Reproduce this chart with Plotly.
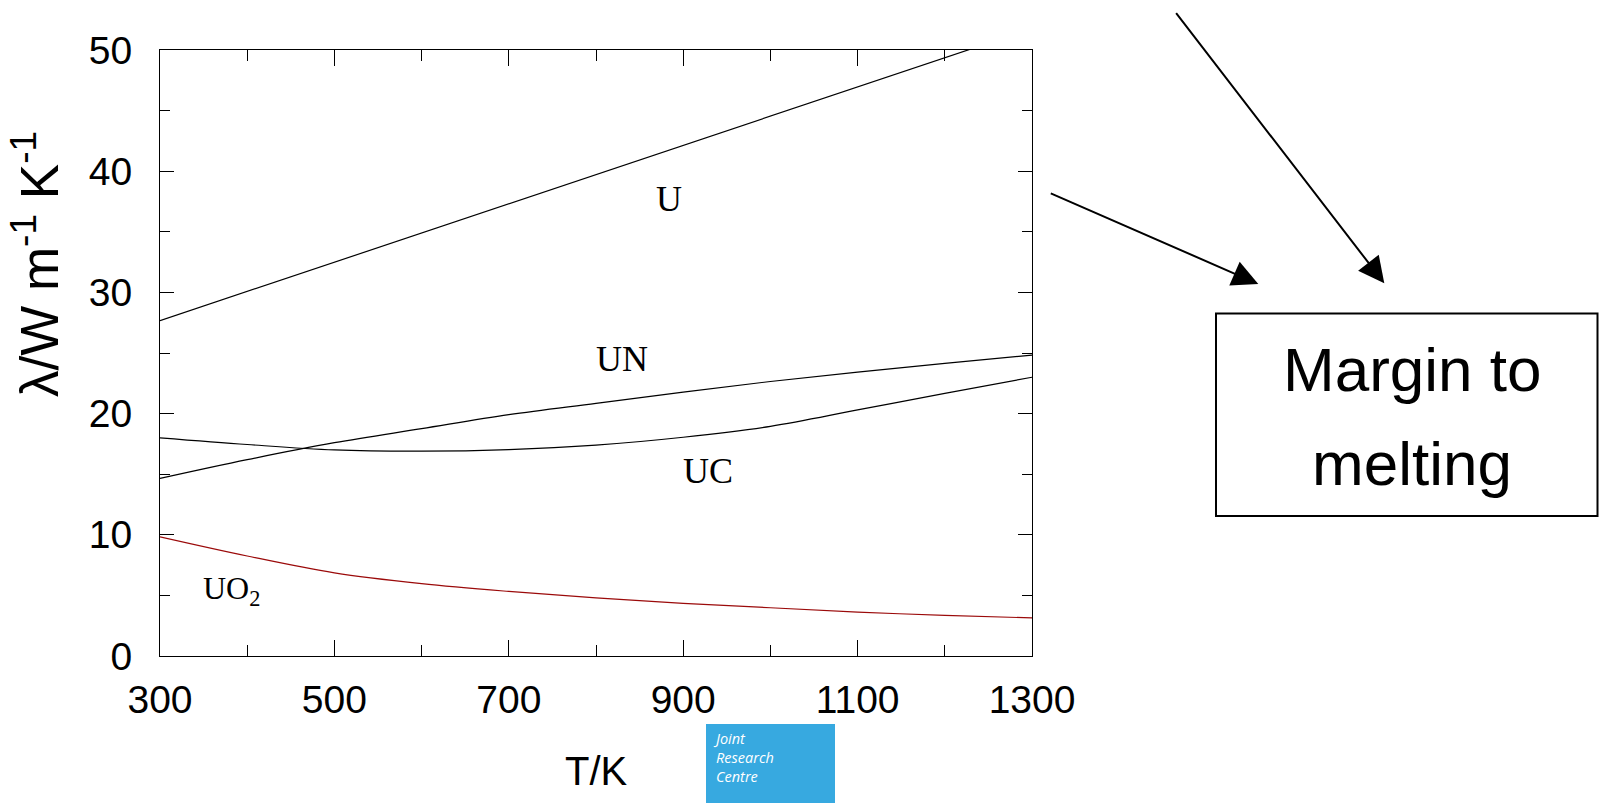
import plotly.graph_objects as go

# ---------------- data ----------------
T = [300, 400, 500, 600, 700, 800, 900, 1000, 1100, 1200, 1300]
lam_U = [27.67, 30.08, 32.49, 34.90, 37.31, 39.72, 42.13, 44.54, 46.95, 49.36, 51.77]
lam_UN = [14.65, 16.20, 17.60, 18.76, 19.91, 20.85, 21.78, 22.65, 23.42, 24.14, 24.83]
lam_UC = [18.00, 17.45, 17.00, 16.90, 17.03, 17.40, 18.05, 18.95, 20.30, 21.67, 23.00]
lam_UO2 = [9.83, 8.25, 6.86, 5.97, 5.33, 4.80, 4.35, 3.98, 3.62, 3.36, 3.14]

x_ticks = [300, 500, 700, 900, 1100, 1300]
y_ticks = [0, 10, 20, 30, 40, 50]

# ---------------- layout geometry ----------------
W, H = 1599, 803
ML, MR, MT, MB = 160, 567, 50, 147
PW = W - ML - MR
PH = H - MT - MB


def PX(x):
    return (x - ML) / PW


def PY(y):
    return (H - MB - y) / PH


fig = go.Figure()
fig.add_trace(go.Scatter(x=T, y=lam_U, mode="lines", line=dict(color="black", width=1.2), name="U"))
fig.add_trace(go.Scatter(x=T, y=lam_UN, mode="lines", line=dict(color="black", width=1.2, shape="spline"), name="UN"))
fig.add_trace(go.Scatter(x=T, y=lam_UC, mode="lines", line=dict(color="black", width=1.2, shape="spline"), name="UC"))
fig.add_trace(go.Scatter(x=T, y=lam_UO2, mode="lines", line=dict(color="#9b0a0a", width=1.2, shape="spline"), name="UO2"))

tickfont = dict(family="Liberation Sans, Arial, sans-serif", size=39, color="black")

fig.update_xaxes(
    range=[300, 1300], tickvals=x_ticks, ticktext=[str(v) for v in x_ticks],
    ticks="inside", ticklen=16, tickwidth=1, tickcolor="black",
    minor=dict(ticks="inside", ticklen=11, dtick=100, tick0=300, tickcolor="black", tickwidth=1),
    showline=True, linecolor="black", linewidth=1, mirror="ticks",
    showgrid=False, zeroline=False, tickfont=tickfont, ticklabelstandoff=9,
)
fig.update_yaxes(
    range=[0, 50], tickvals=y_ticks, ticktext=[str(v) for v in y_ticks],
    ticks="inside", ticklen=14, tickwidth=1, tickcolor="black",
    minor=dict(ticks="inside", ticklen=10, dtick=5, tick0=0, tickcolor="black", tickwidth=1),
    showline=True, linecolor="black", linewidth=1, mirror="ticks",
    showgrid=False, zeroline=False, tickfont=tickfont, ticklabelstandoff=19,
)

serif = dict(family="Liberation Serif, Times New Roman, serif", size=36, color="black")
sans40 = dict(family="Liberation Sans, Arial, sans-serif", size=40, color="black")
box_font = dict(family="Liberation Sans, Arial, sans-serif", size=62, color="black")

ann = []
# curve labels
ann.append(dict(x=PX(669), y=PY(199), text="U", font=serif))
ann.append(dict(x=PX(622), y=PY(359), text="UN", font=serif))
ann.append(dict(x=PX(708), y=PY(470.5), text="UC", font=serif))
ann.append(dict(x=PX(231), y=PY(590), text="UO<sub>2</sub>", font=dict(serif, size=32)))
# axis titles
ann.append(dict(x=PX(35), y=PY(264), text="λ/W m<sup>-1</sup> K<sup>-1</sup>", textangle=-90,
                font=dict(sans40, size=53)))
ann.append(dict(x=PX(596), y=PY(771), text="T/K", font=sans40))
# box text
ann.append(dict(x=PX(1412), y=PY(370), text="Margin to", font=box_font))
ann.append(dict(x=PX(1412), y=PY(463), text="melting", font=box_font))
# JRC logo text
logo_font = dict(family="Open Sans, sans-serif", size=14.5, color="white")
ann.append(dict(x=PX(711), y=PY(757), text="<i>Joint<br>Research<br>Centre</i>", font=logo_font,
                xanchor="left", align="left"))

for a in ann:
    a.setdefault("xref", "paper")
    a.setdefault("yref", "paper")
    a.setdefault("showarrow", False)
    a.setdefault("xanchor", "center")
    a.setdefault("yanchor", "middle")

# arrows (tail -> tip, in pixels)
arrows = [((1049.3, 192.7), (1258.3, 284.0)), ((1175.0, 11.7), (1384.3, 283.3))]
for (tx, ty), (hx, hy) in arrows:
    ann.append(dict(x=PX(hx), y=PY(hy), xref="paper", yref="paper", text="",
                    showarrow=True, ax=tx - hx, ay=ty - hy, axref="pixel", ayref="pixel",
                    arrowhead=2, arrowsize=2.6, arrowwidth=2, arrowcolor="black", standoff=0))

shapes = [
    dict(type="rect", xref="paper", yref="paper", x0=PX(1216), x1=PX(1597.5), y0=PY(516), y1=PY(313.5),
         line=dict(color="black", width=2), fillcolor="rgba(0,0,0,0)", layer="above"),
    dict(type="rect", xref="paper", yref="paper", x0=PX(706), x1=PX(835), y0=PY(803), y1=PY(724),
         line=dict(width=0), fillcolor="#37a9e0", layer="below"),
]

fig.update_layout(
    width=W, height=H, margin=dict(l=ML, r=MR, t=MT, b=MB),
    paper_bgcolor="white", plot_bgcolor="white", showlegend=False,
    annotations=ann, shapes=shapes,
)

fig.write_html("out.html")
